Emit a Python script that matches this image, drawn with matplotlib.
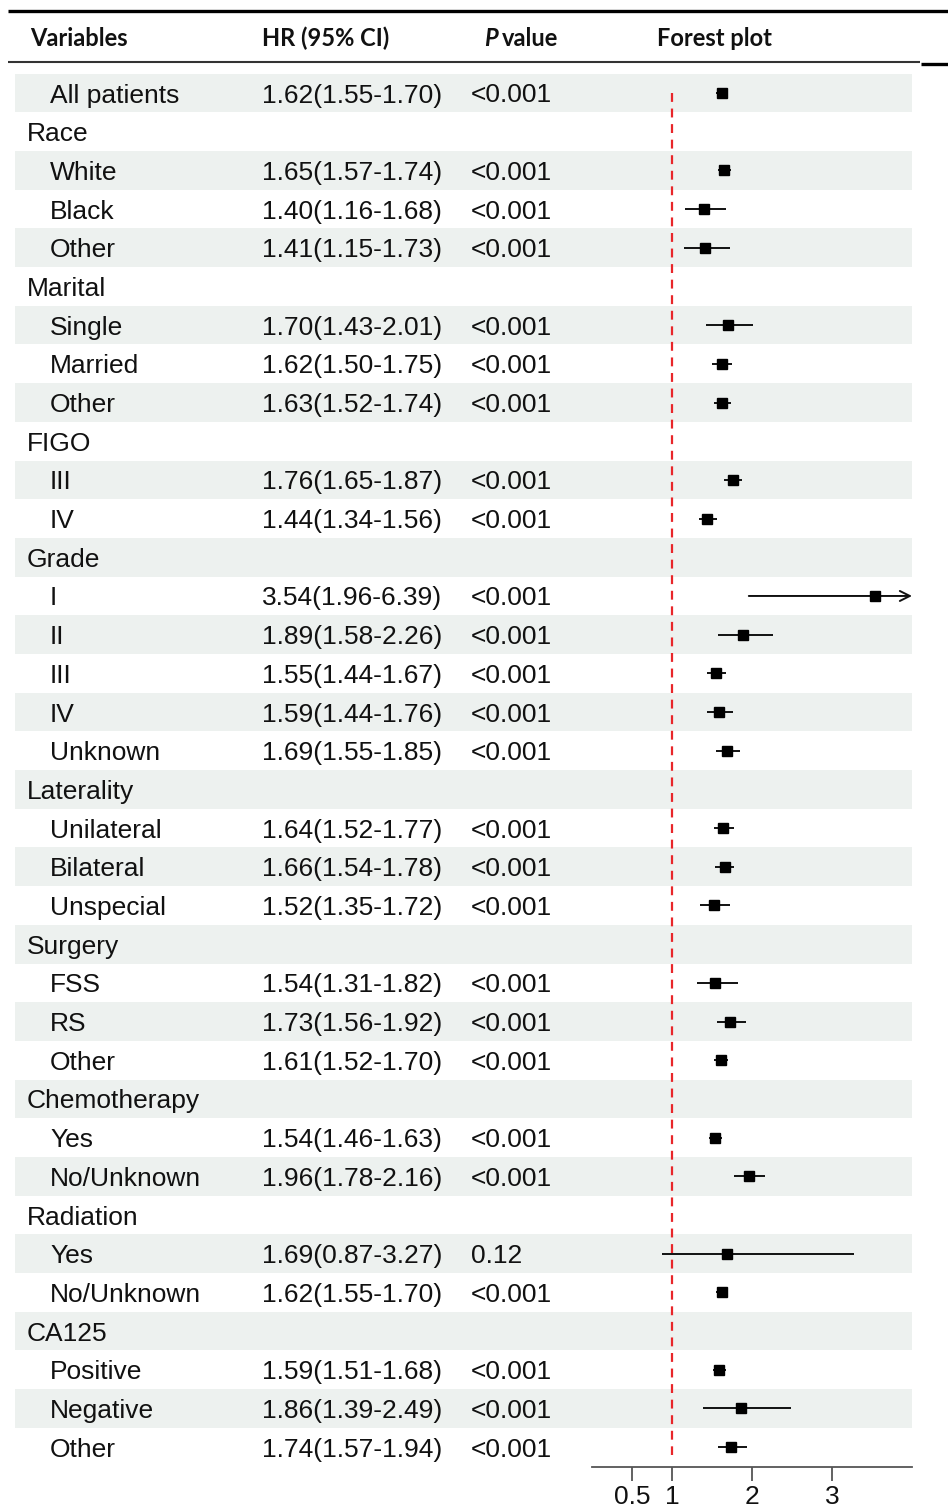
#!/usr/bin/env python3
"""Forest plot of HR by subgroup."""

import matplotlib
matplotlib.use('Agg')
import matplotlib.pyplot as plt
import numpy as np

plt.rcParams.update({
    'font.family': ['Liberation Sans', 'DejaVu Sans'],
})

# ---- data ----
labels = ['All patients', 'Race', 'White', 'Black', 'Other',
          'Marital', 'Single', 'Married', 'Other',
          'FIGO', 'III', 'IV',
          'Grade', 'I', 'II', 'III', 'IV', 'Unknown',
          'Laterality', 'Unilateral', 'Bilateral', 'Unspecial',
          'Surgery', 'FSS', 'RS', 'Other',
          'Chemotherapy', 'Yes', 'No/Unknown',
          'Radiation', 'Yes', 'No/Unknown',
          'CA125', 'Positive', 'Negative', 'Other']
is_group = [False, True, False, False, False,
            True, False, False, False,
            True, False, False,
            True, False, False, False, False, False,
            True, False, False, False,
            True, False, False, False,
            True, False, False,
            True, False, False,
            True, False, False, False]
nan = np.nan
hr = [1.62, nan, 1.65, 1.40, 1.41,
      nan, 1.70, 1.62, 1.63,
      nan, 1.76, 1.44,
      nan, 3.54, 1.89, 1.55, 1.59, 1.69,
      nan, 1.64, 1.66, 1.52,
      nan, 1.54, 1.73, 1.61,
      nan, 1.54, 1.96,
      nan, 1.69, 1.62,
      nan, 1.59, 1.86, 1.74]
ci_lo = [1.55, nan, 1.57, 1.16, 1.15,
         nan, 1.43, 1.50, 1.52,
         nan, 1.65, 1.34,
         nan, 1.96, 1.58, 1.44, 1.44, 1.55,
         nan, 1.52, 1.54, 1.35,
         nan, 1.31, 1.56, 1.52,
         nan, 1.46, 1.78,
         nan, 0.87, 1.55,
         nan, 1.51, 1.39, 1.57]
ci_hi = [1.70, nan, 1.74, 1.68, 1.73,
         nan, 2.01, 1.75, 1.74,
         nan, 1.87, 1.56,
         nan, 6.39, 2.26, 1.67, 1.76, 1.85,
         nan, 1.77, 1.78, 1.72,
         nan, 1.82, 1.92, 1.70,
         nan, 1.63, 2.16,
         nan, 3.27, 1.70,
         nan, 1.68, 2.49, 1.94]
p_values = ['<0.001', '', '<0.001', '<0.001', '<0.001',
            '', '<0.001', '<0.001', '<0.001',
            '', '<0.001', '<0.001',
            '', '<0.001', '<0.001', '<0.001', '<0.001', '<0.001',
            '', '<0.001', '<0.001', '<0.001',
            '', '<0.001', '<0.001', '<0.001',
            '', '<0.001', '<0.001',
            '', '0.12', '<0.001',
            '', '<0.001', '<0.001', '<0.001']
x_ticks = [0.5, 1, 2, 3]
x_range = (0, 4)

# ---- layout (pixels) ----
W, H = 948, 1510
ROW0, ROW_H = 93, 38.69
AX_BOTTOM = 1467
FP_LEFT, FP_RIGHT = 592, 912
SHADE = '#edf1ef'
TXT = '#111111'
FS = 19

fig = plt.figure(figsize=(W / 100, H / 100), dpi=100)

n = len(labels)
rows = np.arange(n)
top_lim = -0.5
bot_lim = (AX_BOTTOM - ROW0) / ROW_H

# table axes in pixel x, row-index y
ax_t = fig.add_axes([0, (H - AX_BOTTOM) / H, 1, (AX_BOTTOM - (ROW0 - 0.5 * ROW_H)) / H])
ax_t.set_xlim(0, W)
ax_t.set_ylim(bot_lim, top_lim)
ax_t.axis('off')

shaded = rows[rows % 2 == 0]
ax_t.barh(shaded, FP_RIGHT - 15, left=15, height=1.0, color=SHADE, zorder=0)

for i, lab in enumerate(labels):
    x = 27 if is_group[i] else 50
    ax_t.text(x, i, lab, fontsize=FS, va='center_baseline', ha='left', color=TXT)
    if not is_group[i]:
        ax_t.text(262, i, f'{hr[i]:.2f}({ci_lo[i]:.2f}-{ci_hi[i]:.2f})',
                  fontsize=FS, va='center_baseline', ha='left', color=TXT)
        ax_t.text(471, i, p_values[i], fontsize=FS, va='center_baseline', ha='left', color=TXT)

# header
hdr = fig.add_axes([0, 0, 1, 1], zorder=-1)
hdr.set_xlim(0, W)
hdr.set_ylim(H, 0)
hdr.axis('off')
hdr.plot([8, W], [10.5, 10.5], color='black', lw=2.4, solid_capstyle='butt')
hdr.plot([8, 920], [62, 62], color='#333333', lw=1.5, solid_capstyle='butt')
hdr.plot([921, W], [63.5, 63.5], color='black', lw=2.4, solid_capstyle='butt')
hfont = dict(fontsize=17, fontweight='bold', family=['Lato', 'DejaVu Sans'],
             va='center', ha='left', color=TXT)
hdr.text(30, 38, 'Variables', **hfont)
hdr.text(262, 38, 'HR (95% CI)', **hfont)
hdr.text(484, 38, 'P', fontstyle='italic', **hfont)
hdr.text(502, 38, 'value', **hfont)
hdr.text(657, 38, 'Forest plot', **hfont)

# forest axes
ax_f = fig.add_axes([FP_LEFT / W, (H - AX_BOTTOM) / H, (FP_RIGHT - FP_LEFT) / W,
                     (AX_BOTTOM - (ROW0 - 0.5 * ROW_H)) / H])
ax_f.patch.set_alpha(0)
ax_f.set_xlim(*x_range)
ax_f.set_ylim(bot_lim, top_lim)
for s in ['top', 'right', 'left']:
    ax_f.spines[s].set_visible(False)
ax_f.spines['bottom'].set_color('#555555')
ax_f.spines['bottom'].set_linewidth(1.3)
ax_f.set_yticks([])
ax_f.set_xticks(x_ticks)
ax_f.set_xticklabels(['0.5', '1', '2', '3'])
ax_f.tick_params(axis='x', direction='out', length=10, width=1.3, color='#555555',
                 labelsize=FS, pad=3, labelcolor=TXT)

ax_f.vlines(1, 0, bot_lim - 0.3, color='#e8262a', lw=1.6, linestyles=(0, (4, 3)), zorder=1)

hr_a = np.array(hr)
lo_a = np.array(ci_lo)
hi_a = np.array(ci_hi)
ok = ~np.isnan(hr_a)
inside = ok & (hi_a <= x_range[1])
over = ok & (hi_a > x_range[1])
ax_f.hlines(rows[inside], lo_a[inside], hi_a[inside], color='#111111', lw=1.4, zorder=2)
for i in rows[over]:
    ax_f.annotate('', xy=(x_range[1], i), xytext=(lo_a[i], i),
                  arrowprops=dict(arrowstyle='->', color='#111111', lw=1.4,
                                  shrinkA=0, shrinkB=0, mutation_scale=18),
                  zorder=2)
ax_f.plot(hr_a[ok], rows[ok], 's', color='black', markersize=7, zorder=3)

fig.savefig('out.png', dpi=100)
plt.close(fig)
